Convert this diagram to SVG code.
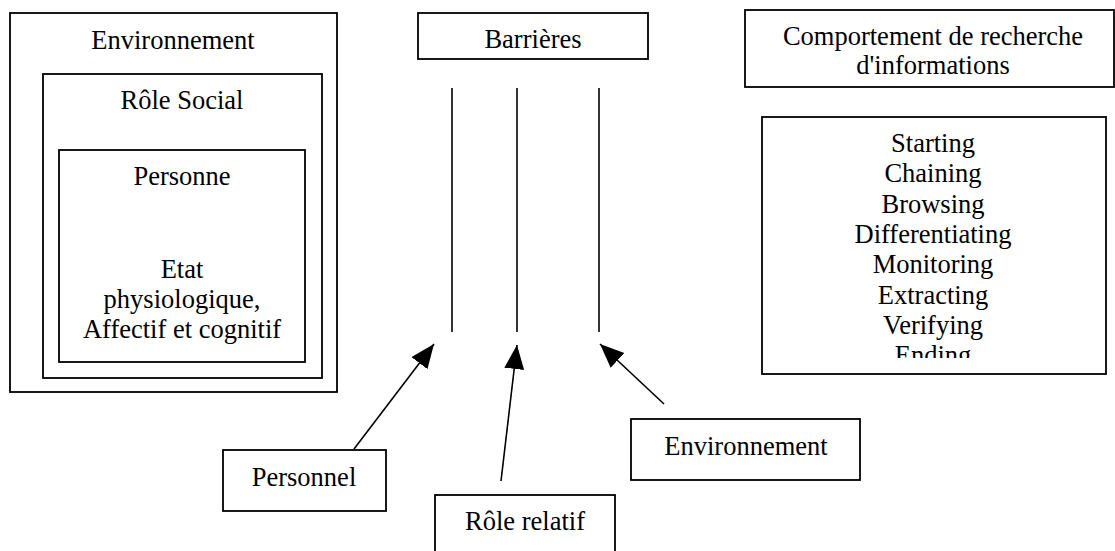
<svg xmlns="http://www.w3.org/2000/svg" width="1115" height="551" viewBox="0 0 1115 551">
<style>
.box{fill:#fff;stroke:#000;stroke-width:1.8}
.nf{fill:none;stroke:#000;stroke-width:1.8}
.t{font-family:'Liberation Serif', 'Times New Roman', serif;font-size:26.5px;fill:#000;text-anchor:middle}
.ln{stroke:#000;stroke-width:1.6;fill:none}
</style>
<defs>
<marker id="ah" markerUnits="userSpaceOnUse" markerWidth="26" markerHeight="22" refX="24" refY="10" orient="auto">
<path d="M0,0 L24,10 L0,20 Z" fill="#000"/>
</marker>
<clipPath id="clipList"><rect x="762" y="117" width="344" height="241"/></clipPath>
</defs>
<rect width="1115" height="551" fill="#fff"/>
<g id="environnement">
<rect class="nf" x="10" y="13" width="327" height="379"/>
<text class="t" x="173" y="49">Environnement</text>
</g>
<g id="role-social">
<rect class="nf" x="43" y="74" width="279" height="304"/>
<text class="t" x="182" y="109">Rôle Social</text>
</g>
<g id="personne">
<rect class="nf" x="59" y="150" width="246" height="212"/>
<text class="t" x="182" y="185">Personne</text>
<text class="t" x="182" y="278">Etat</text>
<text class="t" x="182" y="308">physiologique,</text>
<text class="t" x="182" y="338">Affectif et cognitif</text>
</g>
<g id="barrieres">
<rect class="box" x="418" y="13" width="230" height="46"/>
<text class="t" x="533" y="48">Barrières</text>
</g>
<g id="comportement">
<rect class="box" x="745" y="10" width="369" height="77"/>
<text class="t" x="933" y="45">Comportement de recherche</text>
<text class="t" x="933" y="74">d'informations</text>
</g>
<g id="liste">
<rect class="box" x="762" y="117" width="344" height="257"/>
<g clip-path="url(#clipList)">
<text class="t" x="933" y="152">Starting</text>
<text class="t" x="933" y="182">Chaining</text>
<text class="t" x="933" y="213">Browsing</text>
<text class="t" x="933" y="243">Differentiating</text>
<text class="t" x="933" y="273">Monitoring</text>
<text class="t" x="933" y="304">Extracting</text>
<text class="t" x="933" y="334">Verifying</text>
<text class="t" x="933" y="364">Ending</text>
</g>
</g>
<g id="personnel">
<rect class="box" x="223" y="450" width="163" height="61"/>
<text class="t" x="304" y="486">Personnel</text>
</g>
<g id="role-relatif">
<rect class="box" x="435" y="495" width="180" height="70"/>
<text class="t" x="525" y="530">Rôle relatif</text>
</g>
<g id="environnement-2">
<rect class="box" x="631" y="419" width="229" height="61"/>
<text class="t" x="746" y="455">Environnement</text>
</g>
<g id="connectors">
<line class="ln" x1="452" y1="88" x2="452" y2="332"/>
<line class="ln" x1="517" y1="88" x2="517" y2="332"/>
<line class="ln" x1="599" y1="88" x2="599" y2="332"/>
<line class="ln" x1="354" y1="449" x2="434" y2="344" marker-end="url(#ah)"/>
<line class="ln" x1="501" y1="481" x2="517" y2="345" marker-end="url(#ah)"/>
<line class="ln" x1="664" y1="404" x2="600" y2="344" marker-end="url(#ah)"/>
</g>
</svg>
